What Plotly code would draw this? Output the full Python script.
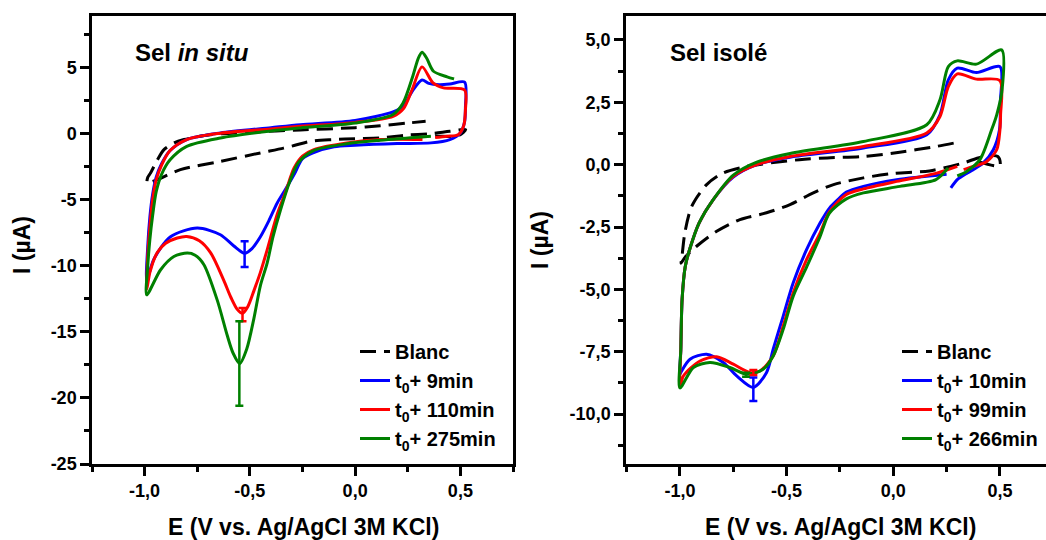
import plotly.graph_objects as go

W, H = 1046, 540

# ---------------- data : left panel (Sel in situ) ----------------
L_blanc_E = [0.38, 0.49, 0.525, 0.45, 0.36, 0.24, 0.12, 0.0, -0.1, -0.2, -0.29, -0.34, -0.45, -0.64, -0.83, -0.94, -0.988,
             -0.985, -0.972, -0.94, -0.908, -0.86, -0.813, -0.687, -0.5, -0.26, 0.0, 0.12, 0.25, 0.335]
L_blanc_I = [-0.18, -0.15, 0.3, 0.18, 0.0, -0.12, -0.33, -0.38, -0.45, -0.55, -0.9, -1.1, -1.46, -2.1, -2.73, -3.48, -3.75,
             -3.3, -2.98, -2.0, -1.21, -0.7, -0.45, -0.08, 0.1, 0.28, 0.45, 0.6, 0.8, 0.93]

L_t1_E = [0.36, 0.2, 0.0, -0.1, -0.2, -0.25, -0.29, -0.33, -0.37, -0.41, -0.45, -0.49, -0.525, -0.576, -0.64, -0.75, -0.877, -0.956, -0.99,
          -0.985, -0.975, -0.962, -0.945, -0.92, -0.88, -0.8, -0.64, -0.4, -0.26, 0.0, 0.18, 0.227, 0.275, 0.318, 0.35, 0.4, 0.45, 0.52,
          0.524, 0.52, 0.5, 0.45, 0.36]
L_t1_I = [-0.7, -0.75, -0.88, -1.0, -1.45, -1.9, -3.1, -4.2, -5.25, -6.6, -7.8, -8.7, -9.05, -8.5, -7.65, -7.15, -7.8, -9.5, -11.1,
          -8.5, -6.3, -4.6, -3.3, -2.3, -1.3, -0.45, 0.05, 0.45, 0.68, 1.0, 1.65, 2.07, 3.3, 4.05, 3.8, 3.7, 3.75, 3.9,
          2.0, 0.9, 0.05, -0.45, -0.7]

L_t2_E = [0.32, 0.12, -0.04, -0.196, -0.25, -0.29, -0.33, -0.37, -0.418, -0.45, -0.481, -0.51, -0.535, -0.56, -0.59, -0.624, -0.687,
          -0.74, -0.8, -0.845, -0.9, -0.94, -0.975, -0.99,
          -0.986, -0.975, -0.962, -0.945, -0.92, -0.88, -0.8, -0.64, -0.4, -0.26, 0.0, 0.18, 0.23, 0.27, 0.318, 0.37, 0.42, 0.52,
          0.524, 0.515, 0.49, 0.437, 0.38]
L_t2_I = [-0.45, -0.45, -0.71, -1.21, -1.7, -2.6, -4.4, -6.1, -8.8, -10.5, -11.9, -13.1, -13.6, -13.3, -12.4, -11.1, -9.0,
          -8.1, -7.78, -7.9, -8.3, -9.0, -10.5, -11.8,
          -9.5, -7.0, -5.0, -3.5, -2.4, -1.3, -0.45, 0.03, 0.35, 0.55, 0.85, 1.31, 1.9, 3.3, 5.05, 3.84, 3.46, 3.3,
          1.8, 0.55, -0.08, -0.2, -0.3]

L_t3_E = [0.36, 0.12, -0.04, -0.2, -0.27, -0.31, -0.355, -0.39, -0.418, -0.45, -0.481, -0.515, -0.548, -0.58, -0.607, -0.655, -0.719,
          -0.76, -0.797, -0.861, -0.924, -0.99,
          -0.985, -0.975, -0.962, -0.945, -0.92, -0.88, -0.8, -0.64, -0.4, -0.26, 0.0, 0.18, 0.227, 0.275, 0.3, 0.318, 0.34, 0.372, 0.437, 0.47]
L_t3_I = [-0.2, -0.5, -0.77, -1.3, -2.2, -3.6, -5.8, -7.8, -9.8, -11.5, -14.0, -16.3, -17.4, -16.6, -15.3, -12.6, -9.9,
          -9.2, -9.04, -9.3, -10.3, -12.2,
          -10.0, -8.0, -6.2, -4.4, -3.1, -2.0, -0.96, -0.33, 0.2, 0.43, 0.8, 1.45, 2.3, 4.4, 5.7, 6.16, 5.7, 4.72, 4.3, 4.14]

# error bars at cathodic peak (E, I, +err, -err)
L_err_E = [-0.525, -0.535, -0.55]
L_err_I = [-9.05, -13.6, -17.4]
L_err_plus = [0.9, 0.4, 3.2]
L_err_minus = [1.05, 0.6, 3.2]

# ---------------- data : right panel (Sel isolé) ----------------
R_blanc_E = [0.4, 0.5, 0.49, 0.41, 0.33, 0.17, 0.0, -0.14, -0.28, -0.375, -0.484, -0.594, -0.719, -0.828, -0.922, -0.975, -0.995,
             -0.992, -0.977, -0.945, -0.875, -0.797, -0.687, -0.44, -0.31, -0.14, 0.03, 0.2, 0.305]
R_blanc_I = [0.12, -0.05, 0.33, 0.3, 0.07, -0.25, -0.35, -0.53, -0.8, -1.13, -1.6, -1.93, -2.2, -2.67, -3.27, -3.7, -3.95,
             -3.8, -2.73, -1.67, -0.8, -0.33, -0.07, 0.2, 0.27, 0.33, 0.5, 0.73, 0.9]

R_t1_E = [0.25, 0.016, -0.14, -0.22, -0.26, -0.3, -0.344, -0.406, -0.469, -0.516, -0.563, -0.594, -0.656, -0.734, -0.797, -0.875, -0.953, -0.992, -1.0,
          -0.996, -0.99, -0.975, -0.95, -0.91, -0.844, -0.75, -0.64, -0.484, -0.14, 0.157, 0.219, 0.258, 0.3, 0.39, 0.5,
          0.502, 0.498, 0.469, 0.422, 0.375, 0.344, 0.3, 0.27]
R_t1_I = [-0.38, -0.6, -0.87, -1.1, -1.4, -1.75, -2.35, -3.4, -4.73, -6.07, -7.4, -8.33, -8.93, -8.47, -7.93, -7.6, -7.8, -8.27, -8.4,
          -7.4, -5.4, -4.07, -3.27, -2.33, -1.4, -0.5, 0.0, 0.3, 0.67, 1.2, 2.0, 3.4, 3.87, 3.69, 3.93,
          2.5, 1.4, 0.6, 0.07, -0.2, -0.35, -0.6, -0.93]

R_t2_E = [0.3, 0.2, 0.016, -0.14, -0.22, -0.3, -0.344, -0.406, -0.469, -0.516, -0.563, -0.625, -0.672, -0.75, -0.828, -0.906, -0.984, -1.0,
          -0.996, -0.99, -0.975, -0.95, -0.91, -0.844, -0.75, -0.64, -0.484, -0.14, 0.157, 0.219, 0.258, 0.3, 0.39, 0.5,
          0.503, 0.5, 0.485, 0.438, 0.375, 0.33]
R_t2_I = [-0.07, -0.35, -0.67, -0.97, -1.2, -1.9, -2.75, -3.8, -5.13, -6.47, -7.67, -8.27, -8.33, -8.0, -7.7, -7.87, -8.47, -8.93,
          -7.4, -5.4, -4.07, -3.27, -2.33, -1.4, -0.47, 0.0, 0.33, 0.73, 1.27, 1.93, 3.13, 3.64, 3.43, 3.37,
          2.0, 1.4, 0.6, 0.13, -0.07, -0.2]

R_t3_E = [0.257, 0.2, 0.031, -0.14, -0.22, -0.3, -0.344, -0.406, -0.469, -0.516, -0.563, -0.61, -0.687, -0.766, -0.86, -0.937, -1.0,
          -0.996, -0.99, -0.975, -0.95, -0.91, -0.844, -0.75, -0.64, -0.484, -0.14, 0.157, 0.219, 0.258, 0.3, 0.39, 0.508,
          0.51, 0.485, 0.461, 0.406, 0.344, 0.3]
R_t3_I = [-0.13, -0.6, -0.87, -1.13, -1.37, -1.95, -2.9, -4.1, -5.27, -6.6, -7.67, -8.2, -8.4, -8.13, -7.93, -8.13, -8.95,
          -7.4, -5.4, -4.07, -3.27, -2.33, -1.4, -0.42, 0.1, 0.45, 0.93, 1.6, 2.6, 3.93, 4.16, 4.03, 4.6,
          3.0, 2.0, 1.4, 0.2, -0.27, -0.45]

R_err_E = [-0.656, -0.656, -0.69]
R_err_I = [-8.93, -8.33, -8.42]
R_err_plus = [0.4, 0.1, 0.08]
R_err_minus = [0.54, 0.1, 0.08]

# ---------------- labels ----------------
L_names = ["Blanc", "t<sub>0</sub>+ 9min", "t<sub>0</sub>+ 110min", "t<sub>0</sub>+ 275min"]
R_names = ["Blanc", "t<sub>0</sub>+ 10min", "t<sub>0</sub>+ 99min", "t<sub>0</sub>+ 266min"]
colors = ["black", "#0000FF", "#FF0000", "#008000"]

x_tick_vals = [-1.0, -0.5, 0.0, 0.5]
x_tick_text = ["-1,0", "-0,5", "0,0", "0,5"]
x_minor_vals = [-1.25, -0.75, -0.25, 0.25, 0.75]
L_y_tick_vals = [-25, -20, -15, -10, -5, 0, 5]
L_y_tick_text = ["-25", "-20", "-15", "-10", "-5", "0", "5"]
L_y_minor_vals = [-22.5, -17.5, -12.5, -7.5, -2.5, 2.5, 7.5]
R_y_tick_vals = [-10.0, -7.5, -5.0, -2.5, 0.0, 2.5, 5.0]
R_y_tick_text = ["-10,0", "-7,5", "-5,0", "-2,5", "0,0", "2,5", "5,0"]
R_y_minor_vals = [-11.25, -8.75, -6.25, -3.75, -1.25, 1.25, 3.75]

x_title = "E (V vs. Ag/AgCl 3M KCl)"
y_title = "I (µA)"

FONT = "Liberation Sans, Arial, sans-serif"


def px(x):
    return x / W


def py(y):
    return 1 - y / H


fig = go.Figure()

panels = [
    (L_names, [(L_blanc_E, L_blanc_I), (L_t1_E, L_t1_I), (L_t2_E, L_t2_I), (L_t3_E, L_t3_I)],
     (L_err_E, L_err_I, L_err_plus, L_err_minus), "x", "y", "legend"),
    (R_names, [(R_blanc_E, R_blanc_I), (R_t1_E, R_t1_I), (R_t2_E, R_t2_I), (R_t3_E, R_t3_I)],
     (R_err_E, R_err_I, R_err_plus, R_err_minus), "x2", "y2", "legend2"),
]

for names, curves, errs, xa, ya, lg in panels:
    for k, (name, (ex, iy)) in enumerate(zip(names, curves)):
        fig.add_trace(go.Scatter(
            x=ex, y=iy, mode="lines", name=name, xaxis=xa, yaxis=ya, legend=lg,
            legendgroup=lg + str(k),
            line=dict(color=colors[k], width=3, shape="spline", smoothing=0.8,
                      dash="16px,8px" if k == 0 else "solid"),
        ))
    eE, eI, ep, em = errs
    for k in range(3):
        fig.add_trace(go.Scatter(
            x=[eE[k]], y=[eI[k]], mode="markers", xaxis=xa, yaxis=ya, showlegend=False,
            marker=dict(size=1, color=colors[k + 1]),
            error_y=dict(type="data", symmetric=False, array=[ep[k]], arrayminus=[em[k]],
                         color=colors[k + 1], thickness=2.5, width=4),
        ))

axis_common = dict(showline=True, linewidth=2.5, linecolor="black", ticks="outside", ticklen=9,
                   tickwidth=2.5, tickcolor="black", showgrid=False, zeroline=False, automargin=False,
                   tickfont=dict(family=FONT, size=18, color="black", weight="bold"))

def minor(vals):
    return dict(tickmode="array", tickvals=vals, ticks="outside", ticklen=5, tickwidth=2.5, tickcolor="black", showgrid=False)

leg_font = dict(family=FONT, size=20, color="black", weight="bold")

fig.update_layout(
    width=W, height=H, margin=dict(l=0, r=0, t=0, b=0, autoexpand=False),
    paper_bgcolor="white", plot_bgcolor="white",
    xaxis=dict(domain=[px(92), px(513)], range=[-1.25, 0.75], anchor="y", mirror=True,
               tickmode="array", tickvals=x_tick_vals, ticktext=x_tick_text, minor=minor(x_minor_vals), **axis_common),
    yaxis=dict(domain=[py(464), py(16)], range=[-25, 8.9], anchor="x", mirror=True,
               tickmode="array", tickvals=L_y_tick_vals, ticktext=L_y_tick_text, minor=minor(L_y_minor_vals), **axis_common),
    xaxis2=dict(domain=[px(626), 1.0], range=[-1.253, 0.716], anchor="y2", mirror=True,
                tickmode="array", tickvals=x_tick_vals, ticktext=x_tick_text, minor=minor(x_minor_vals), **axis_common),
    yaxis2=dict(domain=[py(464), py(16)], range=[-12, 5.96], anchor="x2", mirror=False,
                tickmode="array", tickvals=R_y_tick_vals, ticktext=R_y_tick_text, minor=minor(R_y_minor_vals), **axis_common),
    legend=dict(x=px(355), y=py(332), xanchor="left", yanchor="top", bgcolor="rgba(0,0,0,0)",
                font=leg_font, tracegroupgap=0, traceorder="grouped", itemwidth=30),
    legend2=dict(x=px(897), y=py(332), xanchor="left", yanchor="top", bgcolor="rgba(0,0,0,0)",
                 font=leg_font, tracegroupgap=0, traceorder="grouped", itemwidth=30),
    showlegend=True,
)

ann_font = dict(family=FONT, size=23, color="black", weight="bold")
fig.add_annotation(x=px(303), y=py(527), xref="paper", yref="paper", text=x_title, showarrow=False,
                   font=ann_font, xanchor="center", yanchor="middle")
fig.add_annotation(x=px(840), y=py(527), xref="paper", yref="paper", text=x_title, showarrow=False,
                   font=ann_font, xanchor="center", yanchor="middle")
fig.add_annotation(x=px(22), y=py(245), xref="paper", yref="paper", text=y_title, showarrow=False,
                   font=ann_font, textangle=-90, xanchor="center", yanchor="middle")
fig.add_annotation(x=px(540), y=py(240), xref="paper", yref="paper", text=y_title, showarrow=False,
                   font=ann_font, textangle=-90, xanchor="center", yanchor="middle")

lab_font = dict(family=FONT, size=24, color="black", weight="bold")
fig.add_annotation(x=px(133), y=py(52), xref="paper", yref="paper", text="Sel <i>in situ</i>", showarrow=False,
                   font=lab_font, xanchor="left", yanchor="middle")
fig.add_annotation(x=px(668), y=py(53), xref="paper", yref="paper", text="Sel isolé", showarrow=False,
                   font=lab_font, xanchor="left", yanchor="middle")

fig.write_html("out.html", post_script="document.body.style.margin='0px';",
               config={"displayModeBar": False})
